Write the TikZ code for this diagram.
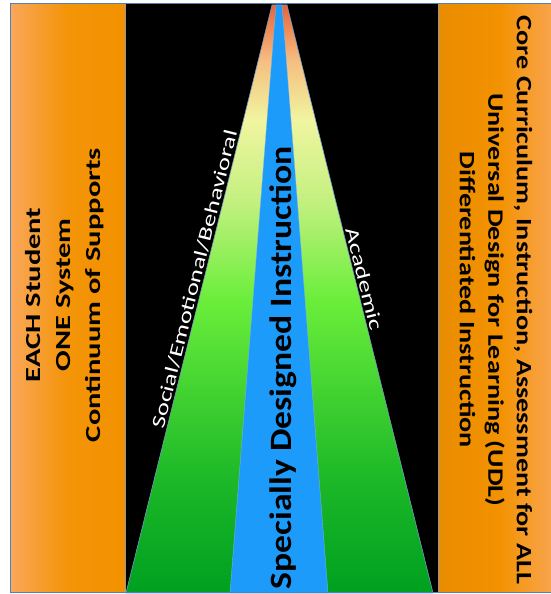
\documentclass[tikz,border=0pt]{standalone}
\usepackage{fontspec}
\setmainfont{Carlito}
\definecolor{sdblue}{HTML}{1C9BFA}
\definecolor{sdorange}{HTML}{F39200}
\definecolor{sdorangelt}{HTML}{FAA75A}
\definecolor{sdframe}{HTML}{4F81BD}
\definecolor{sdred}{HTML}{E8643A}
\definecolor{sdpeach}{HTML}{F5BE80}
\definecolor{sdyellow}{HTML}{F0F5A0}
\definecolor{sdlime}{HTML}{C4F080}
\definecolor{sdgreen}{HTML}{6AEE3A}
\definecolor{sdgreenmd}{HTML}{1CB828}
\definecolor{sdgreendk}{HTML}{00A020}
\pgfdeclareverticalshading{sdcone}{100bp}{color(0bp)=(sdgreendk); color(25bp)=(sdgreendk);
  color(34.6bp)=(sdgreenmd); color(49.9bp)=(sdgreen); color(58.4bp)=(sdlime);
  color(65.2bp)=(sdyellow); color(70.3bp)=(sdpeach); color(75bp)=(sdred); color(100bp)=(sdred)}

\begin{document}
\begin{tikzpicture}[x=1pt, y=1pt,
  sidetext/.style={align=center, text=black},
  edgetext/.style={text=white, font=\fontsize{19}{22}\selectfont, inner sep=2pt, xscale=1.4}]
  \useasboundingbox (0,0) rectangle (551,594);
  \clip (0,0) rectangle (551,594);
  % columns and background
  \fill[black] (125,1) rectangle (438,590);
  \shade[left color=sdorangelt, right color=sdorange, middle color=sdorange!92!sdorangelt] (10,1) rectangle (125,590);
  \shade[left color=sdorange!96!black, right color=sdorangelt, middle color=sdorange] (438,1) rectangle (560,590);
  \draw[black!40, line width=0.6pt] (125,1) -- (125,590) (438,1) -- (438,590);
  % cone
  \coordinate (bl) at (126,1);
  \coordinate (br) at (433,1);
  \coordinate (tl) at (272,589);
  \coordinate (tr) at (287,589);
  \shade[shading=sdcone, draw=sdframe!80, line width=0.6pt] (bl) -- (tl) -- (tr) -- (br) -- cycle;
  \fill[sdblue, draw=sdframe!60, line width=0.3pt] (230,1) -- (276,589) -- (282,589) -- (328,1) -- cycle;
  \draw[sdframe, line width=1pt] (10,1) rectangle (560,590);
  % labels
  \node[sidetext, rotate=90, xscale=1.42, font=\fontsize{21.5}{30}\selectfont\bfseries] (each) at (65,299) {EACH Student\\ONE System\\Continuum of Supports};
  \node[sidetext, rotate=-90, xscale=1.28, font=\fontsize{22}{28.5}\selectfont\bfseries] (core) at (496,294) {Core Curriculum, Instruction, Assessment for ALL\\Universal Design for Learning (UDL)\\Differentiated Instruction};
  \node[rotate=90, xscale=1.15, font=\fontsize{31}{36}\selectfont\bfseries] (sdi) at (283,226) {Specially Designed Instruction};
  \path (bl) -- (tl) node[edgetext, pos=0.53, sloped, above] (seb) {Social/Emotional/Behavioral};
  \path (tr) -- (br) node[edgetext, pos=0.47, sloped, above] (acad) {Academic};
\end{tikzpicture}
\end{document}
